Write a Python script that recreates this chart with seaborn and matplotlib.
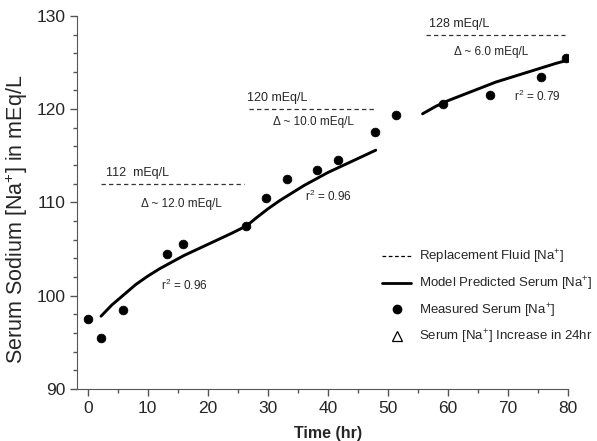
import numpy as np
import pandas as pd
import seaborn as sns
import matplotlib.pyplot as plt
from matplotlib.lines import Line2D
from matplotlib.ticker import MultipleLocator

# measured serum sodium (hr, mEq/L)
meas_t = [0, 2.2, 5.9, 13.2, 15.9, 26.4, 29.7, 33.2, 38.2, 41.7, 47.9, 51.4, 59.2, 67.1, 75.5, 79.7]
meas_na = [97.5, 95.5, 98.5, 104.5, 105.5, 107.5, 110.5, 112.5, 113.5, 114.5, 117.5, 119.4, 120.5, 121.5, 123.5, 125.5]

# model predicted curves, one per replacement fluid period
model1_t = [2.2, 4, 6, 8, 10, 12, 14, 16, 18, 20, 22, 24, 26.5]
model1_na = [97.8, 99.0, 100.1, 101.2, 102.1, 102.9, 103.6, 104.3, 104.9, 105.5, 106.1, 106.7, 107.5]
model2_t = [26.5, 28, 30, 32, 34, 36, 38, 40, 42, 44, 46, 48]
model2_na = [107.5, 108.3, 109.3, 110.2, 111.0, 111.8, 112.5, 113.2, 113.8, 114.4, 115.0, 115.6]
model3_t = [55.8, 58, 60, 62, 64, 66, 68, 70, 72, 74, 76, 78, 79.7]
model3_na = [119.5, 120.3, 120.9, 121.4, 121.9, 122.4, 122.9, 123.3, 123.7, 124.1, 124.5, 124.9, 125.2]

# replacement fluid levels
fluid_na = [112, 120, 128]
fluid_start = [2.2, 26.9, 56.4]
fluid_end = [26.0, 47.7, 79.6]
fluid_labels = ["112  mEq/L", "120 mEq/L", "128 mEq/L"]
delta_labels = ["\u0394 ~ 12.0 mEq/L", "\u0394 ~ 10.0 mEq/L", "\u0394 ~ 6.0 mEq/L"]
r2_labels = ["r$^2$ = 0.96", "r$^2$ = 0.96", "r$^2$ = 0.79"]

sns.set_style("ticks")
plt.rcParams['font.family'] = ['Liberation Sans', 'DejaVu Sans']
plt.rcParams['mathtext.fontset'] = 'custom'
plt.rcParams['mathtext.rm'] = 'Liberation Sans'

fig = plt.figure(figsize=(5.97, 4.41), dpi=100)
ax = fig.add_axes([0.129, 0.118, 0.822, 0.846])

# model curves
for t, na in [(model1_t, model1_na), (model2_t, model2_na), (model3_t, model3_na)]:
    sns.lineplot(x=t, y=na, ax=ax, color="black", lw=2.1, estimator=None, sort=False)

# measured points
sns.scatterplot(x=meas_t, y=meas_na, ax=ax, color="black", s=40, edgecolor="black", zorder=5)

# replacement fluid dashed lines
for lvl, x0, x1 in zip(fluid_na, fluid_start, fluid_end):
    ax.hlines(lvl, x0, x1, colors="#333333", linestyles=(0, (3.5, 2.5)), lw=0.9)

# annotations
ax.text(3.0, 112.5, fluid_labels[0], fontsize=9, ha="left", va="bottom")
ax.text(26.6, 120.5, fluid_labels[1], fontsize=9, ha="left", va="bottom")
ax.text(56.8, 128.5, fluid_labels[2], fontsize=9, ha="left", va="bottom")
ax.text(15.6, 109.8, delta_labels[0], fontsize=8.5, ha="center", va="center")
ax.text(37.6, 118.6, delta_labels[1], fontsize=8.5, ha="center", va="center")
ax.text(67.3, 126.1, delta_labels[2], fontsize=8.5, ha="center", va="center")
ax.text(12.2, 101.1, r2_labels[0], fontsize=8.5, ha="left", va="center")
ax.text(36.2, 110.6, r2_labels[1], fontsize=8.5, ha="left", va="center")
ax.text(71.0, 121.4, r2_labels[2], fontsize=8.5, ha="left", va="center")

ax.set_xlim(-1.8, 80)
ax.set_ylim(90, 130)
ax.xaxis.set_major_locator(MultipleLocator(10))
ax.xaxis.set_minor_locator(MultipleLocator(5))
ax.yaxis.set_major_locator(MultipleLocator(10))
ax.yaxis.set_minor_locator(MultipleLocator(2))
ax.tick_params(which="major", length=5, width=1, labelsize=12.5, color="#555555")
ax.tick_params(which="minor", length=3, width=1, color="#555555")
for s in ["left", "bottom"]:
    ax.spines[s].set_color("#555555")
sns.despine(ax=ax)

ax.set_xlabel("Time (hr)", fontsize=11.5, fontweight="bold")
ax.xaxis.set_label_coords(0.511, -0.100)
ax.set_ylabel("Serum Sodium [Na$^{+}$] in mEq/L", fontsize=15.5)
ax.yaxis.set_label_coords(-0.096, 0.455)

handles = [
    Line2D([], [], color="black", lw=0.9, linestyle=(0, (3, 2))),
    Line2D([], [], color="black", lw=2),
    Line2D([], [], color="black", marker="o", linestyle="none", markersize=6),
    Line2D([], [], color="black", marker="^", mfc="none", mew=0.9,
           linestyle="none", markersize=7),
]
labels = ["Replacement Fluid [Na$^{+}$]", "Model Predicted Serum [Na$^{+}$]",
          "Measured Serum [Na$^{+}$]", "Serum [Na$^{+}$] Increase in 24hr"]
ax.legend(handles, labels, frameon=False, fontsize=9.5, loc="upper left",
          bbox_to_anchor=(0.640, 0.437), bbox_transform=fig.transFigure,
          borderaxespad=0, borderpad=0, handlelength=2.2, handletextpad=0.6,
          labelspacing=0.65)

fig.savefig("out.png", dpi=100)
